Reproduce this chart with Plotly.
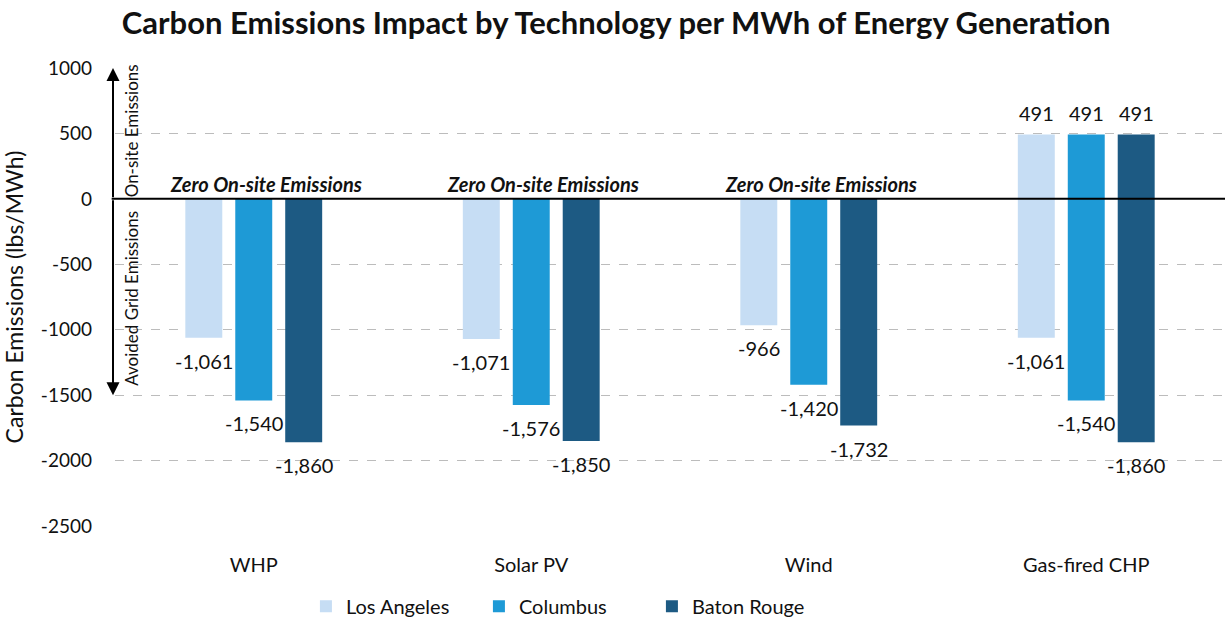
import plotly.graph_objects as go

categories = ["WHP", "Solar PV", "Wind", "Gas-fired CHP"]
cities = ["Los Angeles", "Columbus", "Baton Rouge"]
colors = ["#c6ddf4", "#1e9ad6", "#1d5a83"]

onsite = [0, 0, 0, 491]
avoided_la = [-1061, -1071, -966, -1061]
avoided_col = [-1540, -1576, -1420, -1540]
avoided_br = [-1860, -1850, -1732, -1860]
avoided = [avoided_la, avoided_col, avoided_br]

y_tickvals = [1000, 500, 0, -500, -1000, -1500, -2000, -2500]
y_ticktext = ["1000", "500", "0", "-500", "-1000", "-1500", "-2000", "-2500"]

FONT = "Lato"
fig = go.Figure()
for city, col, av in zip(cities, colors, avoided):
    fig.add_trace(go.Bar(
        name=city, x=categories,
        base=av, y=[o - a for o, a in zip(onsite, av)],
        marker=dict(color=col, line=dict(width=0)),
        hoverinfo="skip",
    ))

annotations = []
n = len(cities)
slot = 0.18
for ci, av in enumerate(avoided):
    off = (ci - (n - 1) / 2) * slot
    for k, v in enumerate(av):
        annotations.append(dict(
            x=k + off, y=v, xref="x", yref="y", text=f"{v:,}",
            showarrow=False, yanchor="top", yshift=-9,
            font=dict(size=20, color="#111", family=FONT)))
        if onsite[k] > 0:
            annotations.append(dict(
                x=k + off, y=onsite[k], xref="x", yref="y", text=f"{onsite[k]:,}",
                showarrow=False, yanchor="bottom", yshift=8,
                font=dict(size=20, color="#111", family=FONT)))
for k, o in enumerate(onsite):
    if o == 0:
        annotations.append(dict(
            x=k, y=0, xref="x", yref="y", text="<b><i>Zero On-site Emissions</i></b>",
            showarrow=False, yanchor="bottom", yshift=1, xshift=12,
            font=dict(size=20, color="#111", family=FONT)))

# axis arrows
annotations.append(dict(x=0, xref="paper", y=1000, yref="y", ax=0, axref="pixel",
                        ay=0, ayref="y", showarrow=True, arrowhead=2, arrowsize=1.3,
                        arrowwidth=2, arrowcolor="#000", text="", xshift=-2))
annotations.append(dict(x=0, xref="paper", y=-1500, yref="y", ax=0, axref="pixel",
                        ay=0, ayref="y", showarrow=True, arrowhead=2, arrowsize=1.3,
                        arrowwidth=2, arrowcolor="#000", text="", xshift=-2))
annotations.append(dict(x=0, xref="paper", y=520, yref="y", text="On-site Emissions",
                        showarrow=False, textangle=-90, xanchor="left", xshift=4,
                        font=dict(size=17, color="#111", family=FONT)))
annotations.append(dict(x=0, xref="paper", y=-760, yref="y", text="Avoided Grid Emissions",
                        showarrow=False, textangle=-90, xanchor="left", xshift=4,
                        font=dict(size=17, color="#111", family=FONT)))

fig.update_layout(
    width=1225, height=626,
    margin=dict(l=115, r=0, t=68, b=96),
    paper_bgcolor="white", plot_bgcolor="white",
    barmode="group", bargap=0.46, bargroupgap=0.26,
    title=dict(text="<b>Carbon Emissions Impact by Technology per MWh of Energy Generation</b>",
               x=0.503, xref="container", xanchor="center", y=0.963, yanchor="middle",
               font=dict(size=31, color="#111", family=FONT, weight=900)),
    font=dict(family=FONT, color="#111"),
    xaxis=dict(range=[-0.5, 3.5], showgrid=False, showline=False, zeroline=False,
               ticks="", tickfont=dict(size=20, color="#111", family=FONT),
               ticklabelstandoff=25),
    yaxis=dict(range=[-2500, 1000], tickvals=y_tickvals, ticktext=y_ticktext,
               showgrid=True, gridcolor="#bcbcbc", griddash="dash", gridwidth=1,
               zeroline=False, showline=False, ticks="",
               tickfont=dict(size=19, color="#111", family=FONT),
               ticklabelstandoff=22,
               title=dict(text="Carbon Emissions (lbs/MWh)", standoff=12,
                          font=dict(size=23, color="#111", family=FONT))),
    legend=dict(orientation="h", x=0.172, xanchor="left", y=-0.175, yanchor="middle",
                font=dict(size=20, color="#111", family=FONT),
                entrywidth=128, entrywidthmode="pixels", itemwidth=30,
                traceorder="normal"),
    shapes=[dict(type="line", xref="paper", yref="y", x0=-0.003, x1=1, y0=0, y1=0,
                 line=dict(color="#000", width=2), layer="above")],
    annotations=annotations,
)

fig.write_html("out.html")
